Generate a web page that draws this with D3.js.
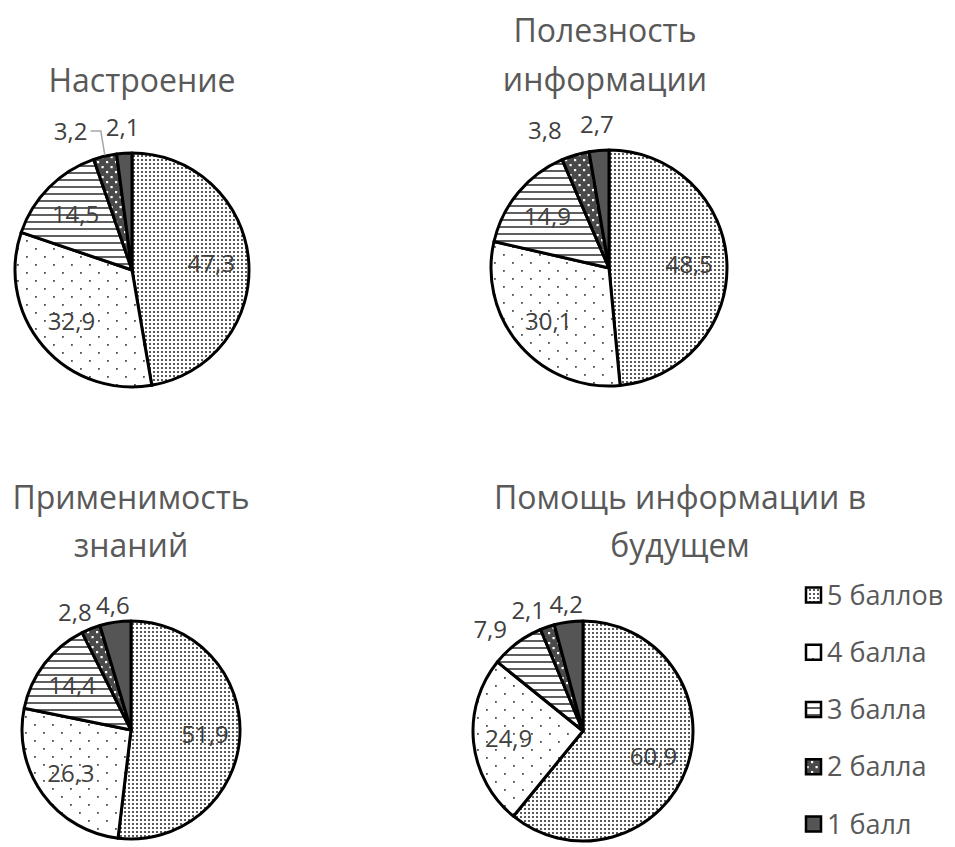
<!DOCTYPE html>
<html><head><meta charset="utf-8">
<script src="https://cdn.jsdelivr.net/npm/d3@7"></script>
<style>
html,body{margin:0;padding:0;background:#fff;}
svg{display:block;font-family:"Open Sans","Noto Sans",sans-serif;}
</style></head>
<body>
<svg id="chart" width="955" height="847"></svg>
<script>
// ---- data ----
const categories = ["5 баллов", "4 балла", "3 балла", "2 балла", "1 балл"];
const titleNastroenie = ["Настроение"];
const titlePoleznost = ["Полезность", "информации"];
const titlePrimenimost = ["Применимость", "знаний"];
const titlePomosch = ["Помощь информации в", "будущем"];
const valuesNastroenie = [47.3, 32.9, 14.5, 3.2, 2.1];
const valuesPoleznost = [48.5, 30.1, 14.9, 3.8, 2.7];
const valuesPrimenimost = [51.9, 26.3, 14.4, 2.8, 4.6];
const valuesPomosch = [60.9, 24.9, 7.9, 2.1, 4.2];

// ---- layout (not data) ----
const panels = [
  {title: titleNastroenie, values: valuesNastroenie, cx: 132, cy: 270, r: 117, tx: 142, ty: [92], gap: 52, outK: 1.22},
  {title: titlePoleznost, values: valuesPoleznost, cx: 609, cy: 268, r: 118, tx: 605, ty: [42, 91], gap: 52, outK: 1.22},
  {title: titlePrimenimost, values: valuesPrimenimost, cx: 131, cy: 730, r: 109, tx: 131, ty: [509, 557], gap: 38, outK: 1.16},
  {title: titlePomosch, values: valuesPomosch, cx: 583, cy: 731, r: 110, tx: 680, ty: [509, 557], gap: 38, outK: 1.16}
];

const svg = d3.select("#chart");
const defs = svg.append("defs");

function pat(id, w, h, bg, draw) {
  const p = defs.append("pattern").attr("id", id).attr("patternUnits", "userSpaceOnUse")
    .attr("width", w).attr("height", h);
  p.append("rect").attr("width", w).attr("height", h).attr("fill", bg);
  draw(p);
}
pat("p5", 4, 4, "#ffffff", p => {
  p.append("rect").attr("x", 1).attr("y", 1).attr("width", 2).attr("height", 2).attr("fill", "#5a5a5a");
});
pat("p4", 18, 16, "#ffffff", p => {
  p.append("rect").attr("x", 2).attr("y", 2).attr("width", 1.8).attr("height", 1.8).attr("fill", "#505050");
  p.append("rect").attr("x", 11).attr("y", 10).attr("width", 1.8).attr("height", 1.8).attr("fill", "#505050");
});
pat("p3", 8, 7, "#ffffff", p => {
  p.append("rect").attr("x", 0).attr("y", 0).attr("width", 8).attr("height", 2).attr("fill", "#5f5f5f");
});
pat("p2", 9, 10, "#4a4a4a", p => {
  p.append("rect").attr("x", 1).attr("y", 1).attr("width", 2.2).attr("height", 2.2).attr("fill", "#ffffff");
  p.append("rect").attr("x", 5.5).attr("y", 6).attr("width", 2.2).attr("height", 2.2).attr("fill", "#ffffff");
});
pat("p1", 4, 4, "#555555", p => {});

const fillScale = d3.scaleOrdinal().domain(categories).range(["url(#p5)", "url(#p4)", "url(#p3)", "url(#p2)", "url(#p1)"]);
const fmt = v => d3.format(".1f")(v).replace(".", ",");

const pie = d3.pie().sort(null).value(d => d.v);

panels.forEach(pn => {
  const g = svg.append("g");
  // title
  const t = g.append("text").attr("text-anchor", "middle").attr("fill", "#595959")
    .attr("font-size", 32);
  pn.title.forEach((line, i) => {
    t.append("tspan").attr("x", pn.tx).attr("y", pn.ty[i]).text(line);
  });

  const data = pn.values.map((v, i) => ({v, c: categories[i]}));
  const arcs = pie(data);
  const arc = d3.arc().innerRadius(0).outerRadius(pn.r);
  const pg = g.append("g").attr("transform", `translate(${pn.cx},${pn.cy})`);
  pg.selectAll("path").data(arcs).join("path")
    .attr("d", arc)
    .attr("fill", d => fillScale(d.data.c))
    .attr("stroke", "#000").attr("stroke-width", 3).attr("stroke-linejoin", "round");

  // inside labels
  const inArc = d3.arc().innerRadius(pn.r * 0.68).outerRadius(pn.r * 0.68);
  pg.selectAll("text.in").data(arcs.filter(d => d.data.v > 10)).join("text")
    .attr("class", "in")
    .attr("transform", d => `translate(${inArc.centroid(d)})`)
    .attr("text-anchor", "middle").attr("dy", "0.36em")
    .attr("font-size", 24).attr("fill", "#404040")
    .text(d => fmt(d.data.v));

  // outside labels, placed right to left with minimal spacing
  const outs = arcs.filter(d => d.data.v <= 10).slice().reverse();
  let prevX = Infinity;
  outs.forEach(d => {
    const mid = (d.startAngle + d.endAngle) / 2;
    const nx = Math.sin(mid) * pn.r * pn.outK;
    const ny = -Math.cos(mid) * pn.r * pn.outK;
    let x = Math.min(nx, prevX - pn.gap);
    prevX = x;
    pg.append("text").attr("x", x).attr("y", ny).attr("dy", "0.36em")
      .attr("text-anchor", "middle").attr("font-size", 24).attr("fill", "#404040")
      .text(fmt(d.data.v));
    if (nx - x > 26) {
      const ex = Math.sin(mid) * (pn.r + 1), ey = -Math.cos(mid) * (pn.r + 1);
      const lx = x + 17;
      pg.append("polyline")
        .attr("points", [[lx + 3, ny], [ex - 4, ny], [ex, ey]].map(p => p.join(",")).join(" "))
        .attr("fill", "none").attr("stroke", "#a6a6a6").attr("stroke-width", 1.5);
    }
  });
});

// legend
const legend = svg.append("g");
const ly = d3.scalePoint().domain(categories).range([595, 824]);
categories.forEach(c => {
  const y = ly(c);
  legend.append("rect").attr("x", 806).attr("y", y - 7.5).attr("width", 15).attr("height", 15)
    .attr("fill", fillScale(c)).attr("stroke", "#000").attr("stroke-width", 2.5);
  legend.append("text").attr("x", 827).attr("y", y).attr("dy", "0.36em")
    .attr("font-size", 27).attr("fill", "#595959").text(c);
});
</script>
</body></html>
